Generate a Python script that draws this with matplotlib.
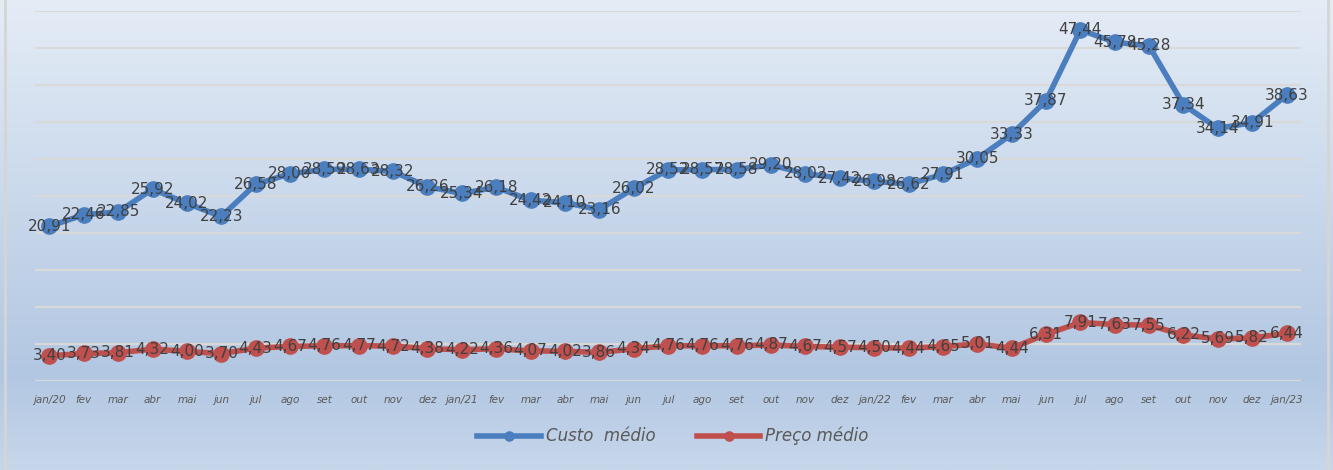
import numpy as np
import matplotlib.pyplot as plt
from matplotlib.colors import LinearSegmentedColormap

months = ['jan/20', 'fev', 'mar', 'abr', 'mai', 'jun', 'jul', 'ago', 'set', 'out', 'nov', 'dez',
          'jan/21', 'fev', 'mar', 'abr', 'mai', 'jun', 'jul', 'ago', 'set', 'out', 'nov', 'dez',
          'jan/22', 'fev', 'mar', 'abr', 'mai', 'jun', 'jul', 'ago', 'set', 'out', 'nov', 'dez',
          'jan/23']

custo = [20.91, 22.46, 22.85, 25.92, 24.02, 22.23, 26.58, 28.00, 28.59, 28.63, 28.32, 26.26,
         25.34, 26.18, 24.42, 24.10, 23.16, 26.02, 28.52, 28.57, 28.58, 29.20, 28.02, 27.42,
         26.98, 26.62, 27.91, 30.05, 33.33, 37.87, 47.44, 45.78, 45.28, 37.34, 34.14, 34.91,
         38.63]

preco = [3.40, 3.73, 3.81, 4.32, 4.00, 3.70, 4.43, 4.67, 4.76, 4.77, 4.72, 4.38,
         4.22, 4.36, 4.07, 4.02, 3.86, 4.34, 4.76, 4.76, 4.76, 4.87, 4.67, 4.57,
         4.50, 4.44, 4.65, 5.01, 4.44, 6.31, 7.91, 7.63, 7.55, 6.22, 5.69, 5.82,
         6.44]

fig = plt.figure(figsize=(13.33, 4.70), dpi=100)

# gradient background
bg = fig.add_axes([0, 0, 1, 1], zorder=-10)
cmap = LinearSegmentedColormap.from_list('bg', [(0, '#e4ecf6'), (0.8, '#b2c7e2'), (1.0, '#c7d7eb')])
grad = np.linspace(0, 1, 256).reshape(-1, 1)
bg.imshow(grad, aspect='auto', cmap=cmap, extent=[0, 1, 0, 1], origin='upper')
bg.plot([0.004, 0.004], [0, 1], color='#d5d5d5', lw=2)
bg.plot([0.996, 0.996], [0, 1], color='#d5d5d5', lw=2)
bg.set_xlim(0, 1)
bg.set_ylim(0, 1)
bg.axis('off')

ax = fig.add_axes([35 / 1333, 89 / 470, (1301 - 35) / 1333, (381 - 11) / 470])
ax.patch.set_alpha(0)
x = np.arange(len(months))

ax.plot(x, custo, color='#4a7ebf', lw=4, marker='o', ms=11, label='Custo  médio', zorder=3)
ax.plot(x, preco, color='#c0504d', lw=4, marker='o', ms=11, label='Preço médio', zorder=3)

# data labels centred on the points
for xi, v in zip(x, custo):
    ax.text(xi, v, f'{v:.2f}'.replace('.', ','), ha='center', va='center',
            fontsize=11, color='#404040', zorder=4)
for xi, v in zip(x, preco):
    ax.text(xi, v, f'{v:.2f}'.replace('.', ','), ha='center', va='center',
            fontsize=11, color='#404040', zorder=4)

ax.set_xlim(-0.42, 36.42)
ax.set_ylim(0, 50)
for g in range(5, 51, 5):
    ax.axhline(g, color='#d9d9d9', lw=1.6, zorder=1)
ax.axhline(0, color='#d9d9d9', lw=1.6, zorder=1)

ax.set_xticks(x)
ax.set_xticklabels(months, fontsize=7.5, style='italic', color='#595959')
ax.tick_params(axis='x', length=0, pad=10)
ax.set_yticks([])
for s in ax.spines.values():
    s.set_visible(False)

fig.legend(loc='center', bbox_to_anchor=(0.505, 0.072), ncol=2, frameon=False,
           prop={'size': 12, 'style': 'italic'}, labelcolor='#595959',
           handlelength=3.8, columnspacing=2.5, handletextpad=0.3, markerscale=0.6)

fig.savefig('out.png', dpi=100)
